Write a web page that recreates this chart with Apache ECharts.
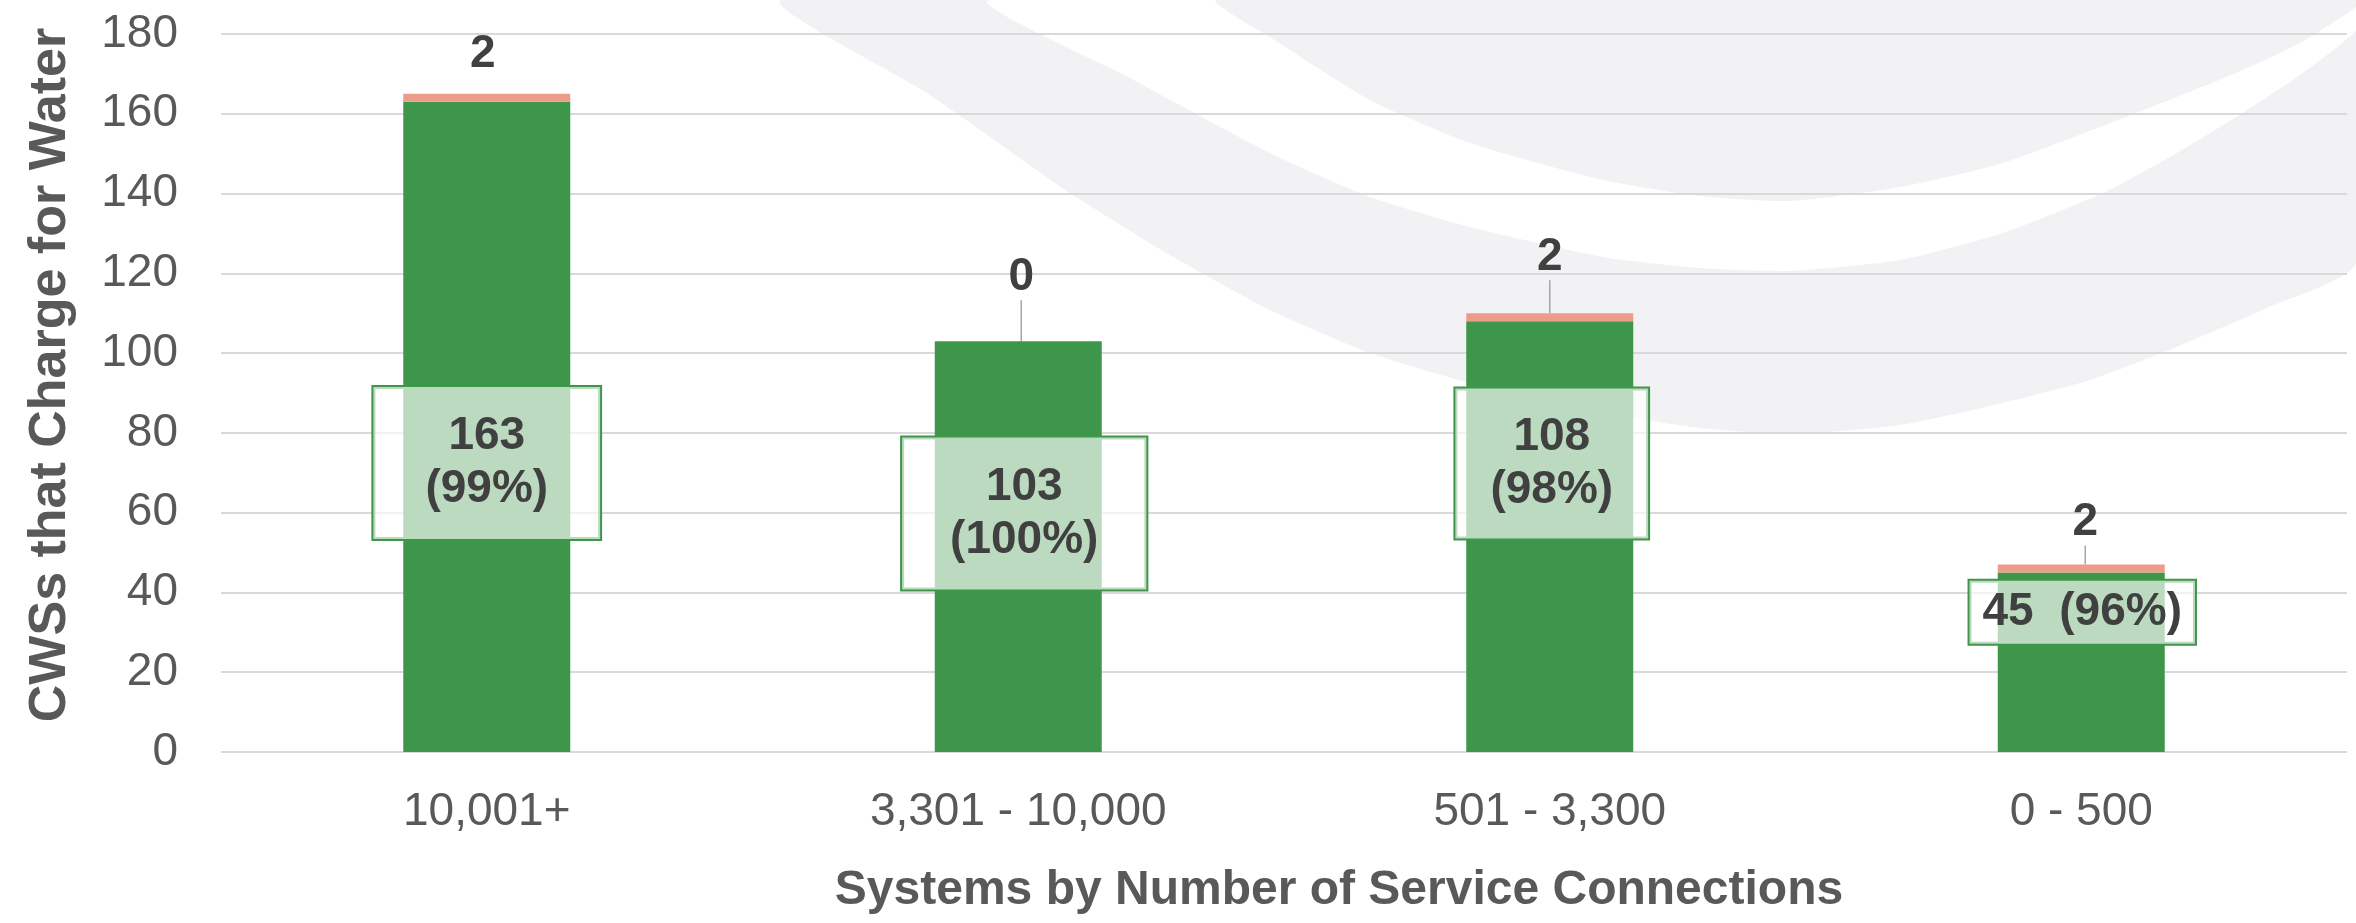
<!DOCTYPE html>
<html>
<head>
<meta charset="utf-8">
<style>
  html, body { margin: 0; padding: 0; background: #fff; }
  #main { width: 2356px; height: 923px; }
</style>
<script src="https://cdn.jsdelivr.net/npm/echarts@6/dist/echarts.min.js"></script>
</head>
<body>
<div id="main"></div>
<script>
// data
var categories = ["10,001+", "3,301 - 10,000", "501 - 3,300", "0 - 500"];
var charge = [163, 103, 108, 45];
var noCharge = [2, 0, 2, 2];

// label placement tweaks (Excel labels were dragged by hand)
var boxDx = [0, 6, 2, 1];
var boxDy = [36, -33, -73, -50];
var boxPad = [[23, 52], [23, 48], [22, 35], [5, 13]];
var oneLine = [false, false, false, true];
var topDx = [-4, 3, 0, 4];
var topDy = [0, -24, -16, -2];

var font = "'Liberation Sans', Arial, sans-serif";
var green = "#3e964a";
var pink = "#ee9c8a";
var gray = "#f2f2f4";

function pct(i) {
  return Math.round(charge[i] / (charge[i] + noCharge[i]) * 100);
}

// background swooshes (decoration)
var outer = [[783,0],[930,95],[1070,193],[1170,255],[1270,310],[1370,353],[1470,383],[1603,413],[1700,428],[1790,434],[1900,425],[2003,403],[2090,380],[2169,350],[2269,307],[2356,263],[2356,0]];
var band = [[990,0],[1130,78],[1270,153],[1370,197],[1470,227],[1603,257],[1700,268],[1790,271],[1900,260],[2003,233],[2103,193],[2170,157],[2236,117],[2300,75],[2356,30],[2356,0]];
var inner = [[1217,0],[1270,37],[1370,100],[1470,143],[1603,180],[1700,196],[1790,201],[1900,187],[2003,163],[2136,113],[2236,73],[2300,43],[2356,7],[2356,0]];

var myChart = echarts.init(document.getElementById("main"));

var option = {
  backgroundColor: "#fff",
  animation: false,
  textStyle: { fontFamily: font },
  graphic: [
    { type: "polygon", z: -10, silent: true, shape: { points: outer, smooth: 0.2 }, style: { fill: gray } },
    { type: "polygon", z: -9, silent: true, shape: { points: band, smooth: 0.2 }, style: { fill: "#fff" } },
    { type: "polygon", z: -8, silent: true, shape: { points: inner, smooth: 0.2 }, style: { fill: gray } }
  ],
  grid: { left: 221, right: 9, top: 34, bottom: 171 },
  xAxis: {
    type: "category",
    data: categories,
    axisLine: { show: false },
    axisTick: { show: false },
    axisLabel: { margin: 37, fontSize: 46, color: "#595959", fontFamily: font },
    name: "Systems by Number of Service Connections",
    nameLocation: "middle",
    nameGap: 115,
    nameTextStyle: { fontSize: 48, fontWeight: "bold", color: "#595959", fontFamily: font, padding: [0, 0, 0, 110] }
  },
  yAxis: {
    type: "value",
    min: 0,
    max: 180,
    interval: 20,
    axisLine: { show: false },
    axisTick: { show: false },
    axisLabel: { margin: 43, fontSize: 46, color: "#595959", fontFamily: font },
    splitLine: { lineStyle: { color: "#d9d9d9", width: 2 } },
    name: "CWSs that Charge for Water",
    nameLocation: "middle",
    nameGap: 144,
    nameTextStyle: { fontSize: 52, fontWeight: "bold", color: "#595959", fontFamily: font, padding: [0, 0, 0, 36] }
  },
  series: [
    {
      name: "Charge",
      type: "bar",
      stack: "total",
      barWidth: 167,
      itemStyle: { color: green },
      data: charge.map(function (v, i) {
        return { value: v, label: { padding: boxPad[i] } };
      }),
      label: {
        show: true,
        position: "inside",
        fontSize: 46,
        fontWeight: "bold",
        color: "#404040",
        fontFamily: font,
        lineHeight: 53,
        backgroundColor: "rgba(255,255,255,0.65)",
        borderColor: green,
        borderWidth: 2,
        formatter: function (p) {
          var i = p.dataIndex;
          return oneLine[i] ? charge[i] + "  (" + pct(i) + "%)" : charge[i] + "\n(" + pct(i) + "%)";
        }
      },
      labelLayout: function (p) {
        return { dx: boxDx[p.dataIndex], dy: boxDy[p.dataIndex] };
      }
    },
    {
      name: "No charge",
      type: "bar",
      stack: "total",
      barWidth: 167,
      itemStyle: { color: pink },
      data: noCharge.map(function (v, i) {
        return { value: v, labelLine: { show: i !== 0 } };
      }),
      label: {
        show: true,
        position: "top",
        distance: 17,
        fontSize: 46,
        fontWeight: "bold",
        color: "#404040",
        fontFamily: font
      },
      labelLine: { show: true, lineStyle: { color: "#a6a6a6", width: 1.5 } },
      labelLayout: function (p) {
        return { dx: topDx[p.dataIndex], dy: topDy[p.dataIndex] };
      }
    }
  ]
};

myChart.setOption(option);
</script>
</body>
</html>
